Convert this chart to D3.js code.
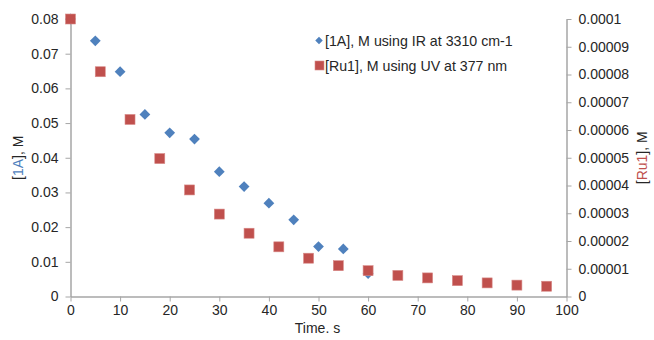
<!DOCTYPE html>
<html>
<head>
<meta charset="utf-8">
<script src="https://cdn.jsdelivr.net/npm/d3@7"></script>
<style>
    body { margin: 0; background: #fff; }
    text { font-family: "Liberation Sans", Arial, sans-serif; }
</style>
</head>
<body>
<svg id="main-svg" width="654" height="340"></svg>
<script>
let IR_TIME = [0, 5, 10, 15, 20, 25, 30, 35, 40, 45, 50, 55, 60];
let IR_CONC = [0.0800, 0.0737, 0.0648, 0.0525, 0.0472, 0.0454, 0.0360, 0.0317, 0.0269, 0.0221, 0.0144, 0.0137, 0.0066];

let UV_TIME = [0, 6, 12, 18, 24, 30, 36, 42, 48, 54, 60, 66, 72, 78, 84, 90, 96];
let UV_CONC = [0.000100, 0.0000810, 0.0000638, 0.0000497, 0.0000384, 0.0000297, 0.0000228, 0.0000179,
    0.0000138, 0.0000111, 0.0000093, 0.0000076, 0.0000067, 0.0000057, 0.0000049, 0.0000041, 0.0000037];

let X_TICKS = [0, 10, 20, 30, 40, 50, 60, 70, 80, 90, 100];
let LEFT_TICKS = [0, 0.01, 0.02, 0.03, 0.04, 0.05, 0.06, 0.07, 0.08];
let RIGHT_TICKS = [0, 0.00001, 0.00002, 0.00003, 0.00004, 0.00005, 0.00006, 0.00007, 0.00008, 0.00009, 0.0001];
let RIGHT_LABELS = ['0', '0.00001', '0.00002', '0.00003', '0.00004', '0.00005', '0.00006', '0.00007', '0.00008', '0.00009', '0.0001'];

let LEGEND = ['[1A], M using IR at 3310 cm-1', '[Ru1], M using UV at 377 nm'];

let BLUE = '#4f81bd';
let RED = '#c0504d';
let AXIS_COLOR = '#a6a6a6';
let TEXT_COLOR = '#262626';

let svg = d3.select('#main-svg');

// plot area in svg pixels
let plot = { left: 70.5, right: 566.5, top: 19, bottom: 296.5 };

let x = d3.scaleLinear().domain([0, 100]).range([plot.left, plot.right]);
let yLeft = d3.scaleLinear().domain([0, 0.08]).range([plot.bottom, plot.top]);
let yRight = d3.scaleLinear().domain([0, 0.0001]).range([plot.bottom, plot.top]);

// style an axis group the way the reference looks
function styleAxis(g) {
    g.select('.domain').attr('stroke', AXIS_COLOR).attr('stroke-width', 1.5);
    g.selectAll('.tick line').attr('stroke', AXIS_COLOR).attr('stroke-width', 1);
    g.selectAll('.tick text')
        .attr('fill', TEXT_COLOR)
        .style('font-size', '14px')
        .style('font-family', '"Liberation Sans", Arial, sans-serif');
}

// x axis
svg.append('g')
    .attr('transform', `translate(0,${plot.bottom})`)
    .call(d3.axisBottom(x).tickValues(X_TICKS).tickSize(5).tickSizeOuter(0).tickPadding(4))
    .call(styleAxis);

// left axis
svg.append('g')
    .attr('transform', `translate(${plot.left},0)`)
    .call(d3.axisLeft(yLeft).tickValues(LEFT_TICKS).tickSize(5).tickSizeOuter(0).tickPadding(7)
        .tickFormat(d => d === 0 ? '0' : d3.format('.2f')(d)))
    .call(styleAxis);

// right axis
svg.append('g')
    .attr('transform', `translate(${plot.right},0)`)
    .call(d3.axisRight(yRight).tickValues(RIGHT_TICKS).tickSize(5).tickSizeOuter(0).tickPadding(7)
        .tickFormat((d, i) => RIGHT_LABELS[i]))
    .call(styleAxis);

// axis titles
svg.append('text')
    .attr('x', (plot.left + plot.right) / 2 - 1)
    .attr('y', 333)
    .attr('text-anchor', 'middle')
    .attr('fill', TEXT_COLOR)
    .style('font-size', '14px')
    .text('Time. s');

let leftTitle = svg.append('text')
    .attr('transform', `translate(23,${(plot.top + plot.bottom) / 2}) rotate(-90)`)
    .attr('text-anchor', 'middle')
    .attr('fill', TEXT_COLOR)
    .style('font-size', '14px');
leftTitle.append('tspan').text('[');
leftTitle.append('tspan').attr('fill', BLUE).text('1A');
leftTitle.append('tspan').text('], M');

let rightTitle = svg.append('text')
    .attr('transform', `translate(647,${(plot.top + plot.bottom) / 2}) rotate(-90)`)
    .attr('text-anchor', 'middle')
    .attr('fill', TEXT_COLOR)
    .style('font-size', '14px');
rightTitle.append('tspan').text('[');
rightTitle.append('tspan').attr('fill', RED).text('Ru1');
rightTitle.append('tspan').text('], M');

// series points
let irPoints = IR_TIME.map((t, i) => ({ t: t, c: IR_CONC[i] }));
let uvPoints = UV_TIME.map((t, i) => ({ t: t, c: UV_CONC[i] }));

let diamond = d3.symbol().type(d3.symbolDiamond2).size(74);
let smallDiamond = d3.symbol().type(d3.symbolDiamond2).size(36);

svg.append('g').selectAll('path').data(irPoints)
    .enter().append('path')
    .attr('d', diamond)
    .attr('transform', p => `translate(${x(p.t)},${yLeft(p.c)})`)
    .attr('fill', BLUE);

let SQ = 10;
svg.append('g').selectAll('rect').data(uvPoints)
    .enter().append('rect')
    .attr('x', p => x(p.t) - SQ / 2)
    .attr('y', p => yRight(p.c) - SQ / 2)
    .attr('width', SQ)
    .attr('height', SQ)
    .attr('fill', RED)
    .attr('stroke', '#d88a88')
    .attr('stroke-width', 0.6);

// legend
let legend = svg.append('g');
legend.append('path')
    .attr('d', smallDiamond)
    .attr('transform', 'translate(319,40.5)')
    .attr('fill', BLUE);
legend.append('rect')
    .attr('x', 315).attr('y', 61).attr('width', 9).attr('height', 9)
    .attr('fill', RED).attr('stroke', '#d88a88').attr('stroke-width', 0.6);
legend.selectAll('text').data(LEGEND)
    .enter().append('text')
    .attr('x', 325)
    .attr('y', (d, i) => 45.5 + i * 25)
    .attr('fill', TEXT_COLOR)
    .style('font-size', '14.2px')
    .text(d => d);
</script>
</body>
</html>
